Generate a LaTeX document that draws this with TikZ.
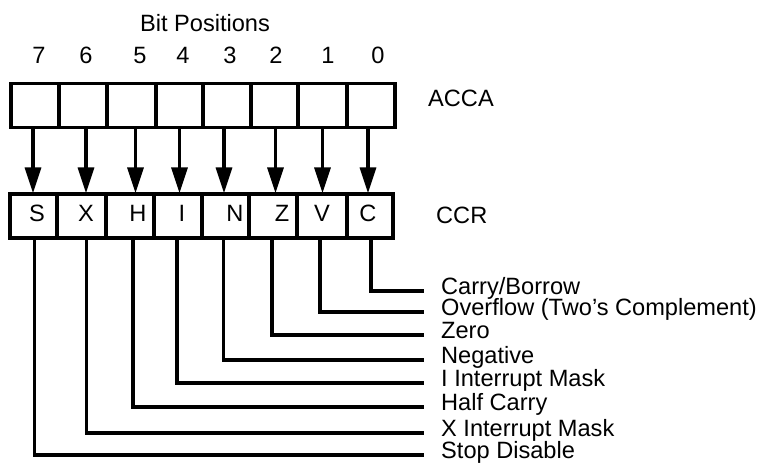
\documentclass[tikz,border=0pt]{standalone}
\usepackage{fontspec}
\setmainfont{Liberation Sans}
\usetikzlibrary{arrows.meta}
\begin{document}
\begin{tikzpicture}[x=1pt,y=-1pt,
  txt/.style={inner sep=0pt,font=\fontsize{23.6}{23.6}\selectfont},
  cell/.style={draw,line width=3.3pt,inner sep=0pt,minimum height=44pt},
  lead/.style={line width=3.3pt},
  arr/.style={line width=3.3pt,-{Triangle[length=26pt,width=16pt]}}]
\useasboundingbox (0,0) rectangle (765,463);
% title and bit numbers
\node[txt,anchor=base] (title) at (205,31) {Bit Positions};
\foreach \n/\x in {7/39,6/86,5/140,4/183,3/230,2/276,1/328,0/378}
  \node[txt,anchor=base] (b\n) at (\x,63) {\n};
% ACCA cells
\foreach \n/\l/\r in {7/11/59,6/59/107,5/107/156,4/156/203,3/203/251,2/251/298,1/298/347,0/347/395}
  \node[cell,minimum width={\r-\l}] (a\n) at ({(\l+\r)/2},105.5) {};
\node[txt,anchor=base west] (acca) at (428,106) {ACCA};
% CCR cells
\foreach \n/\l/\r in {7/10/57,6/57/106,5/106/154,4/154/202,3/202/249,2/249/297,1/297/347,0/347/393}
  \node[cell,minimum width={\r-\l}] (c\n) at ({(\l+\r)/2},216) {};
\node[txt,anchor=base west] (ccr) at (436,223) {CCR};
% CCR letters
\foreach \n/\t/\x in {7/S/37,6/X/86,5/H/138,4/I/182,3/N/235,2/Z/282,1/V/322,0/C/368}
  \node[txt,anchor=base] (t\n) at (\x,221) {\t};
% arrows ACCA -> CCR
\foreach \n/\d in {7/-2,6/3,5/4,4/0,3/-3,2/1,1/0,0/-3}
  \draw[arr] ([xshift=\d pt]a\n.south) -- ([xshift=\d pt,yshift=-1pt]a\n.south |- c\n.north);
% leader ends and labels
\foreach \n/\y/\lab in {0/291/Carry\slash Borrow,1/312/Overflow (Two’s Complement),2/335/Zero,3/360/Negative,4/383/I Interrupt Mask,5/407/Half Carry,6/433/X Interrupt Mask,7/455/Stop Disable}{
  \coordinate (e\n) at (424,\y);
  \node[txt,anchor=base west] (l\n) at (441,\y+3) {\lab};
}
\foreach \n/\d in {7/1,6/5,5/3,4/-1,3/-2,2/-1,1/-2,0/1}
  \draw[lead] ([xshift=\d pt]c\n.south) |- (e\n);
\end{tikzpicture}
\end{document}
